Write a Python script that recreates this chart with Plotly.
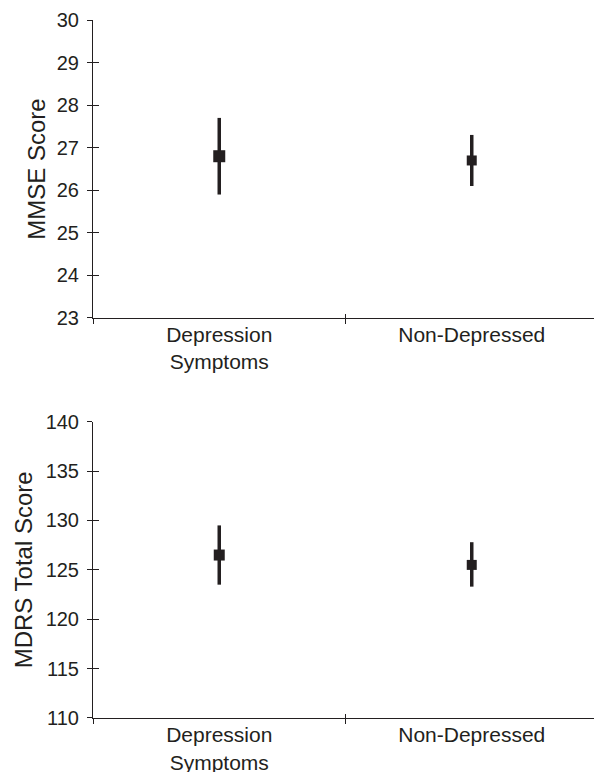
import plotly.graph_objects as go

# ---- data ----
groups = ["Depression<br>Symptoms", "Non-Depressed"]

mmse_mean = [26.8, 26.7]
mmse_upper = [27.7, 27.3]
mmse_lower = [25.9, 26.1]

mdrs_mean = [126.5, 125.5]
mdrs_upper = [129.5, 127.8]
mdrs_lower = [123.5, 123.3]

mmse_ticks = [23, 24, 25, 26, 27, 28, 29, 30]
mdrs_ticks = [110, 115, 120, 125, 130, 135, 140]

INK = "#231f20"
FONT = "Liberation Sans, Arial, Helvetica, sans-serif"


def err(mean, up, lo):
    return dict(type="data", symmetric=False,
                array=[u - m for u, m in zip(up, mean)],
                arrayminus=[m - l for m, l in zip(mean, lo)],
                color=INK, thickness=3.5, width=0)


fig = go.Figure()

# invisible traces for the overlay axes (inner half of crossing ticks)
fig.add_trace(go.Scatter(x=groups, y=mmse_mean, mode="markers", xaxis="x3", yaxis="y3",
                         marker=dict(opacity=0, line=dict(width=0)), showlegend=False,
                         hoverinfo="skip"))
fig.add_trace(go.Scatter(x=groups, y=mdrs_mean, mode="markers", xaxis="x4", yaxis="y4",
                         marker=dict(opacity=0, line=dict(width=0)), showlegend=False,
                         hoverinfo="skip"))

fig.add_trace(go.Scatter(
    x=groups, y=mmse_mean, mode="markers", xaxis="x", yaxis="y",
    marker=dict(symbol="square", size=[12, 10], color=INK, opacity=1, line=dict(width=0)),
    error_y=err(mmse_mean, mmse_upper, mmse_lower), showlegend=False,
    hoverinfo="skip"))
fig.add_trace(go.Scatter(
    x=groups, y=mdrs_mean, mode="markers", xaxis="x2", yaxis="y2",
    marker=dict(symbol="square", size=[11, 10], color=INK, opacity=1, line=dict(width=0)),
    error_y=err(mdrs_mean, mdrs_upper, mdrs_lower), showlegend=False,
    hoverinfo="skip"))

xcommon = dict(type="category", categoryorder="array", categoryarray=groups,
               range=[-0.5, 1.5], tickson="boundaries", showgrid=False, zeroline=False,
               tickcolor=INK, tickwidth=1, fixedrange=True, automargin=False)
ycommon = dict(showgrid=False, zeroline=False, tickcolor=INK, tickwidth=1, tickmode="array",
               automargin=False)

# the page body adds an 8px offset, so the figure is sized/margined to compensate
fig.update_layout(
    width=594, height=764,
    margin=dict(l=85, r=4, t=12, b=54),
    paper_bgcolor="white", plot_bgcolor="white",
    font=dict(family=FONT, color=INK),
    xaxis=dict(**xcommon, domain=[0, 1], anchor="y", showline=True, linecolor=INK, linewidth=1,
               ticks="outside", ticklen=5, tickfont=dict(size=21), ticklabelstandoff=-2),
    xaxis2=dict(**xcommon, domain=[0, 1], anchor="y2", showline=True, linecolor=INK, linewidth=1,
                ticks="outside", ticklen=5, tickfont=dict(size=21), ticklabelstandoff=-2),
    xaxis3=dict(**xcommon, overlaying="x", anchor="y", ticks="inside", ticklen=4,
                showticklabels=False, showline=False),
    xaxis4=dict(**xcommon, overlaying="x2", anchor="y2", ticks="inside", ticklen=4,
                showticklabels=False, showline=False),
    yaxis=dict(**ycommon, domain=[0.5731, 1], anchor="x", range=[23, 30], tickvals=mmse_ticks,
               showline=True, linecolor=INK, linewidth=1, ticks="outside", ticklen=5,
               tickfont=dict(size=20), ticklabelstandoff=4,
               title=dict(text="MMSE Score", font=dict(size=24), standoff=4)),
    yaxis2=dict(**ycommon, domain=[0, 0.4245], anchor="x2", range=[110, 140], tickvals=mdrs_ticks,
                showline=True, linecolor=INK, linewidth=1, ticks="outside", ticklen=5,
                tickfont=dict(size=20), ticklabelstandoff=4,
                title=dict(text="MDRS Total Score", font=dict(size=24), standoff=6)),
    yaxis3=dict(**ycommon, overlaying="y", anchor="x", range=[23, 30], tickvals=mmse_ticks,
                ticks="inside", ticklen=6, showticklabels=False, showline=False),
    yaxis4=dict(**ycommon, overlaying="y2", anchor="x2", range=[110, 140], tickvals=mdrs_ticks,
                ticks="inside", ticklen=6, showticklabels=False, showline=False),
)

fig.write_html("out.html")
